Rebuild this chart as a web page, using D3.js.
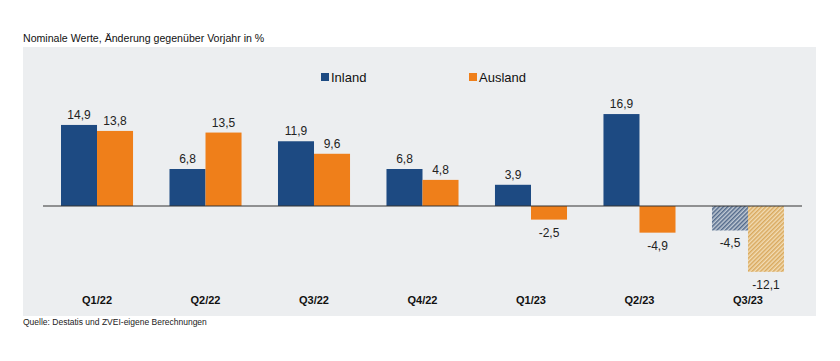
<!DOCTYPE html>
<html>
<meta charset="utf-8">
<title>Umsatz Inland / Ausland</title>
<style>
body {
  margin: 0;
  background: #fff;
  font-family: "Liberation Sans", Arial, sans-serif;
}
.label {
  font-size: 12px;
  fill: #222;
}
.cat {
  font-size: 11px;
  font-weight: bold;
  fill: #111;
}
</style>
<body>
<div id="chart"></div>
<script src="https://d3js.org/d3.v7.min.js"></script>
<script>

var categories = ["Q1/22", "Q2/22", "Q3/22", "Q4/22", "Q1/23", "Q2/23", "Q3/23"];
var series = ["Inland", "Ausland"];
var inland = [14.9, 6.8, 11.9, 6.8, 3.9, 16.9, -4.5];
var ausland = [13.8, 13.5, 9.6, 4.8, -2.5, -4.9, -12.1];
// last quarter is an estimate -> hatched
var estimated = [false, false, false, false, false, false, true];

var width = 840,
  height = 361;

var colors = { Inland: "#1d4a82", Ausland: "#ef7f1a" };

var svg = d3.select("#chart").append("svg")
  .attr("width", width)
  .attr("height", height);

var defs = svg.append("defs");

function hatch(id, bg, line) {
  var p = defs.append("pattern")
    .attr("id", id)
    .attr("patternUnits", "userSpaceOnUse")
    .attr("width", 3)
    .attr("height", 3)
    .attr("patternTransform", "rotate(45)");
  p.append("rect").attr("width", 3).attr("height", 3).attr("fill", bg);
  p.append("line")
    .attr("x1", 0.75).attr("y1", 0).attr("x2", 0.75).attr("y2", 3)
    .attr("stroke", line).attr("stroke-width", 1.5);
}
hatch("hatch-Inland", "#c3ccd6", "#52698a");
hatch("hatch-Ausland", "#f2dcb4", "#d9a95e");

// panel
svg.append("rect")
  .attr("x", 23)
  .attr("y", 47)
  .attr("width", 793)
  .attr("height", 269)
  .attr("fill", "#eceef0");

svg.append("text")
  .attr("x", 23)
  .attr("y", 42)
  .style("font-size", "10.6px")
  .style("fill", "#111")
  .text("Nominale Werte, Änderung gegenüber Vorjahr in %");

svg.append("text")
  .attr("x", 23)
  .attr("y", 325)
  .style("font-size", "8.5px")
  .style("fill", "#222")
  .text("Quelle: Destatis und ZVEI-eigene Berechnungen");

var x0 = d3.scaleBand()
  .domain(categories)
  .range([61, 784])
  .paddingInner(0.336)
  .paddingOuter(0);

var x1 = d3.scaleBand()
  .domain(series)
  .range([0, x0.bandwidth()]);

var y = d3.scaleLinear()
  .domain([-13, 18])
  .range([206 + 13 * 5.44, 206 - 18 * 5.44]);

var fmt = function(v) {
  return d3.format(".1f")(v).replace(".", ",").replace("\u2212", "-");
};

var data = [];
categories.forEach(function(c, i) {
  data.push({ cat: c, key: "Inland", value: inland[i], est: estimated[i] });
  data.push({ cat: c, key: "Ausland", value: ausland[i], est: estimated[i] });
});

var bar = svg.append("g").selectAll("g")
  .data(data)
  .enter().append("g");

bar.append("rect")
  .attr("x", function(d) { return x0(d.cat) + x1(d.key); })
  .attr("width", x1.bandwidth())
  .attr("y", function(d) { return y(Math.max(0, d.value)); })
  .attr("height", function(d) { return Math.abs(y(d.value) - y(0)); })
  .attr("fill", function(d) {
    return d.est ? "url(#hatch-" + d.key + ")" : colors[d.key];
  });

bar.append("text")
  .attr("class", "label")
  .attr("x", function(d) { return x0(d.cat) + x1(d.key) + x1.bandwidth() / 2; })
  .attr("y", function(d) {
    return d.value >= 0 ? y(d.value) - 6 : y(d.value) + 17;
  })
  .attr("text-anchor", "middle")
  .text(function(d) { return fmt(d.value); });

// zero line
svg.append("line")
  .attr("x1", 43)
  .attr("x2", 802)
  .attr("y1", y(0))
  .attr("y2", y(0))
  .attr("stroke", "#333")
  .attr("stroke-width", 1.2);

svg.append("g").selectAll("text")
  .data(categories)
  .enter().append("text")
  .attr("class", "cat")
  .attr("x", function(d) { return x0(d) + x0.bandwidth() / 2; })
  .attr("y", 304)
  .attr("text-anchor", "middle")
  .text(function(d) { return d; });

// legend
var legend = svg.append("g").selectAll("g")
  .data(series)
  .enter().append("g")
  .attr("transform", function(d, i) { return "translate(" + (321 + i * 148) + ",73)"; });

legend.append("rect")
  .attr("width", 8)
  .attr("height", 8)
  .attr("fill", function(d) { return colors[d]; });

legend.append("text")
  .attr("x", 10)
  .attr("y", 9)
  .style("font-size", "13px")
  .style("fill", "#111")
  .text(function(d) { return d; });

</script>
</body>
</html>
